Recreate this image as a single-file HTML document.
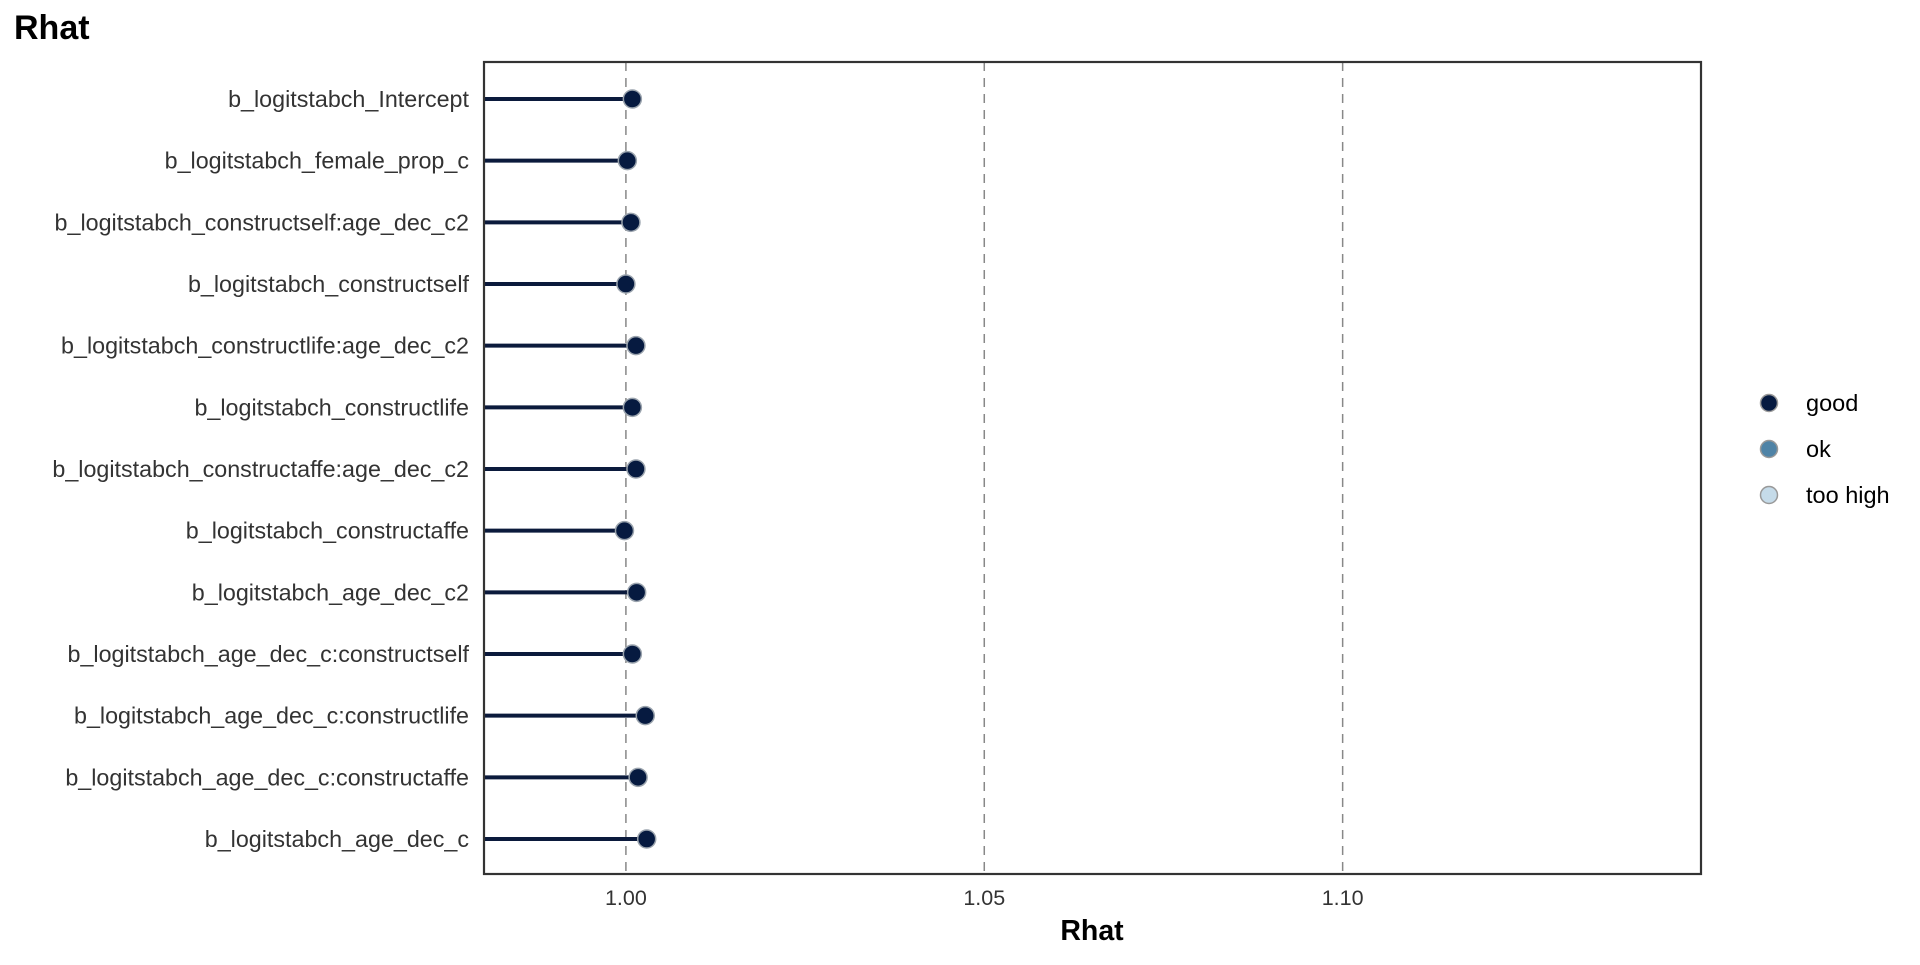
<!DOCTYPE html>
<html><head><meta charset="utf-8"><style>
body{margin:0;background:#fff;width:1920px;height:960px;overflow:hidden;font-family:"Liberation Sans",Arial,sans-serif}
</style></head><body>
<svg id="chart" width="1920" height="960" xmlns="http://www.w3.org/2000/svg">
<text x="14" y="39" font-size="34" font-weight="bold" fill="#000">Rhat</text>
<g id="grid"></g><g id="marks"></g><g id="ylabels"></g><g id="xticks"></g>
<rect x="484" y="62" width="1217" height="812" fill="none" stroke="#333" stroke-width="2.2"/>
<text x="1092" y="940" font-size="28.5" font-weight="bold" text-anchor="middle" fill="#000">Rhat</text>
<g>
<circle cx="1769" cy="403" r="8.5" fill="#061a40" stroke="#999" stroke-width="1.5"/>
<text x="1806" y="411" font-size="23.5" fill="#000">good</text>
<circle cx="1769" cy="449" r="8.5" fill="#4f83a6" stroke="#999" stroke-width="1.5"/>
<text x="1806" y="457" font-size="23.5" fill="#000">ok</text>
<circle cx="1769" cy="495" r="8.5" fill="#c5dbe9" stroke="#999" stroke-width="1.5"/>
<text x="1806" y="503" font-size="23.5" fill="#000">too high</text>
</g>
</svg>
<script>
const params=["b_logitstabch_Intercept","b_logitstabch_female_prop_c","b_logitstabch_constructself:age_dec_c2","b_logitstabch_constructself","b_logitstabch_constructlife:age_dec_c2","b_logitstabch_constructlife","b_logitstabch_constructaffe:age_dec_c2","b_logitstabch_constructaffe","b_logitstabch_age_dec_c2","b_logitstabch_age_dec_c:constructself","b_logitstabch_age_dec_c:constructlife","b_logitstabch_age_dec_c:constructaffe","b_logitstabch_age_dec_c"];
const rhat=[1.0009,1.0002,1.0007,1.0000,1.0014,1.0009,1.0014,0.9998,1.0015,1.0009,1.0027,1.0017,1.0029];
const xTicks=[1.00,1.05,1.10];
const xTickLabels=["1.00","1.05","1.10"];
const NS="http://www.w3.org/2000/svg";
const X0=484,X1=1701,XMIN=0.9802,XMAX=1.1500;
function xs(v){return X0+(v-XMIN)/(XMAX-XMIN)*(X1-X0);}
function ys(i){return 99+i*(839-99)/(params.length-1);}
function mk(tag,attrs,parent){const e=document.createElementNS(NS,tag);for(const k in attrs)e.setAttribute(k,attrs[k]);document.getElementById(parent).appendChild(e);return e;}
xTicks.forEach((t,i)=>{
 const g=mk("line",{x1:xs(t),x2:xs(t),y1:62,y2:874,stroke:"#888","stroke-width":1.5,"stroke-dasharray":"9,7"},"grid");
 
 
 const tl=mk("text",{x:xs(t),y:905,"font-size":21.5,"text-anchor":"middle",fill:"#333"},"xticks");
 tl.textContent=xTickLabels[i];
 
 
});
params.forEach((p,i)=>{
 const y=ys(i);
 const l=mk("line",{x1:X0,x2:xs(rhat[i]),y1:y,y2:y,stroke:"#0b1a3c","stroke-width":4},"marks");
 
 
 const c=mk("circle",{cx:xs(rhat[i]),cy:y,r:9,fill:"#061a40",stroke:"#9aa3ad","stroke-width":1.5},"marks");
 
 
 const t=mk("text",{x:469,y:y+8,"font-size":23.3,"text-anchor":"end",fill:"#333"},"ylabels");
 t.textContent=p;
 
 
});
</script>
</body></html>
